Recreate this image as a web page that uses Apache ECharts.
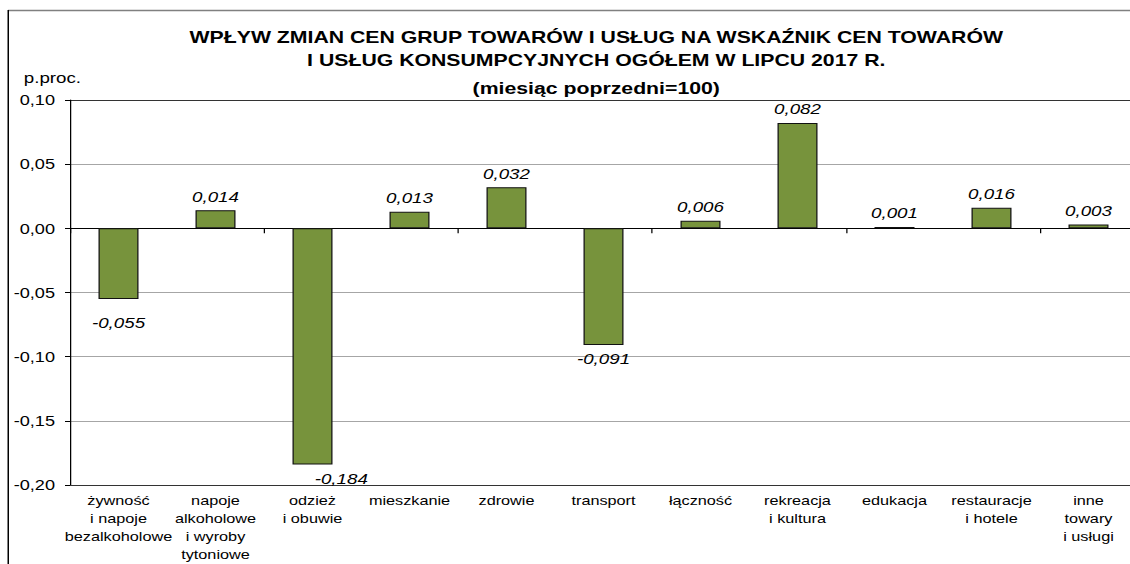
<!DOCTYPE html>
<html>
<head>
<meta charset="utf-8">
<script src="https://cdn.jsdelivr.net/npm/echarts@6/dist/echarts.min.js"></script>
<style>
  html, body { margin: 0; padding: 0; background: #fff; overflow: hidden; }
  /* oryginał jest rozciągnięty w poziomie, więc rysujemy węższy wykres i skalujemy */
  #chart { width: 912px; height: 564px; transform: scaleX(1.25); transform-origin: 0 0; }
</style>
</head>
<body>
<div id="chart"></div>
<script>
// kategorie (grupy towarów i usług)
var categories = [
  "żywność\ni napoje\nbezalkoholowe",
  "napoje\nalkoholowe\ni wyroby\ntytoniowe",
  "odzież\ni obuwie",
  "mieszkanie",
  "zdrowie",
  "transport",
  "łączność",
  "rekreacja\ni kultura",
  "edukacja",
  "restauracje\ni hotele",
  "inne\ntowary\ni usługi"
];

// wpływ na wskaźnik (p.proc.)
var values = [-0.055, 0.014, -0.184, 0.013, 0.032, -0.091, 0.006, 0.082, 0.001, 0.016, 0.003];

// podziałka osi Y
var yMin = -0.2;
var yMax = 0.1;
var yStep = 0.05;

var myChart = echarts.init(document.getElementById("chart"), null, { renderer: "svg" });

var fmt = function (v) {
  return v.toFixed(3).replace(".", ",");
};

var option = {
  animation: false,
  backgroundColor: "#fff",
  textStyle: { fontFamily: "Liberation Sans, Arial, sans-serif" },
  title: [
    {
      text: "WPŁYW ZMIAN CEN GRUP TOWARÓW I USŁUG NA WSKAŹNIK CEN TOWARÓW\nI USŁUG KONSUMPCYJNYCH OGÓŁEM W LIPCU 2017 R.",
      left: 472,
      top: 21,
      textAlign: "center",
      textStyle: { fontSize: 17, fontWeight: "bold", color: "#000", lineHeight: 23 }
    },
    {
      text: "(miesiąc poprzedni=100)",
      left: 472,
      top: 72,
      textAlign: "center",
      textStyle: { fontSize: 17, fontWeight: "bold", color: "#000", lineHeight: 23 }
    },
    {
      text: "p.proc.",
      left: 14,
      top: 66,
      textStyle: { fontSize: 15, fontWeight: "normal", color: "#000" }
    }
  ],
  // ramka wykresu
  graphic: [
    { type: "line", shape: { x1: 6.4, y1: 10.5, x2: 912, y2: 10.5 }, style: { stroke: "#808080", lineWidth: 1.5 } },
    { type: "line", shape: { x1: 6.6, y1: 10, x2: 6.6, y2: 564 }, style: { stroke: "#000", lineWidth: 1.2 } }
  ],
  grid: {
    left: 56,
    right: 2.4,
    top: 100,
    bottom: 76,
    containLabel: false
  },
  xAxis: [
    {
      type: "category",
      data: categories,
      position: "bottom",
      axisLine: { onZero: false, lineStyle: { color: "#333", width: 1 } },
      axisTick: { show: false },
      axisLabel: {
        interval: 0,
        color: "#000",
        fontSize: 13,
        lineHeight: 18,
        margin: 7
      },
      splitLine: { show: false }
    },
    {
      type: "category",
      data: categories,
      position: "top",
      axisLine: { onZero: true, lineStyle: { color: "#000", width: 1 } },
      axisTick: { show: true, inside: true, length: 5, lineStyle: { color: "#000" } },
      axisLabel: { show: false },
      splitLine: { show: false }
    }
  ],
  yAxis: {
    type: "value",
    min: yMin,
    max: yMax,
    interval: yStep,
    axisLine: { show: true, lineStyle: { color: "#000", width: 1 } },
    axisTick: { show: true, length: 4, lineStyle: { color: "#000" } },
    axisLabel: {
      color: "#000",
      fontSize: 14.5,
      margin: 12,
      formatter: function (v) {
        return v.toFixed(2).replace(".", ",");
      }
    },
    splitLine: {
      show: true,
      lineStyle: {
        color: ["#333", "#a6a6a6", "#a6a6a6", "#a6a6a6", "#a6a6a6", "#a6a6a6", "#333"],
        width: 1
      }
    }
  },
  series: [
    {
      type: "bar",
      xAxisIndex: 0,
      barWidth: 32,
      itemStyle: { color: "#77933C", borderColor: "#111", borderWidth: 1 },
      label: {
        show: true,
        fontSize: 15,
        fontStyle: "italic",
        color: "#000",
        formatter: function (p) { return fmt(p.value); }
      },
      data: values.map(function (v, i) {
        var lbl = { position: v < 0 ? "bottom" : "top", distance: v < 0 ? 7 : 6 };
        // etykiety przesunięte jak w oryginale
        if (i === 0) lbl.offset = [0, 10];
        if (i === 2) lbl.offset = [23, 0];
        return { value: v, label: lbl };
      })
    }
  ]
};

myChart.setOption(option);
</script>
</body>
</html>
